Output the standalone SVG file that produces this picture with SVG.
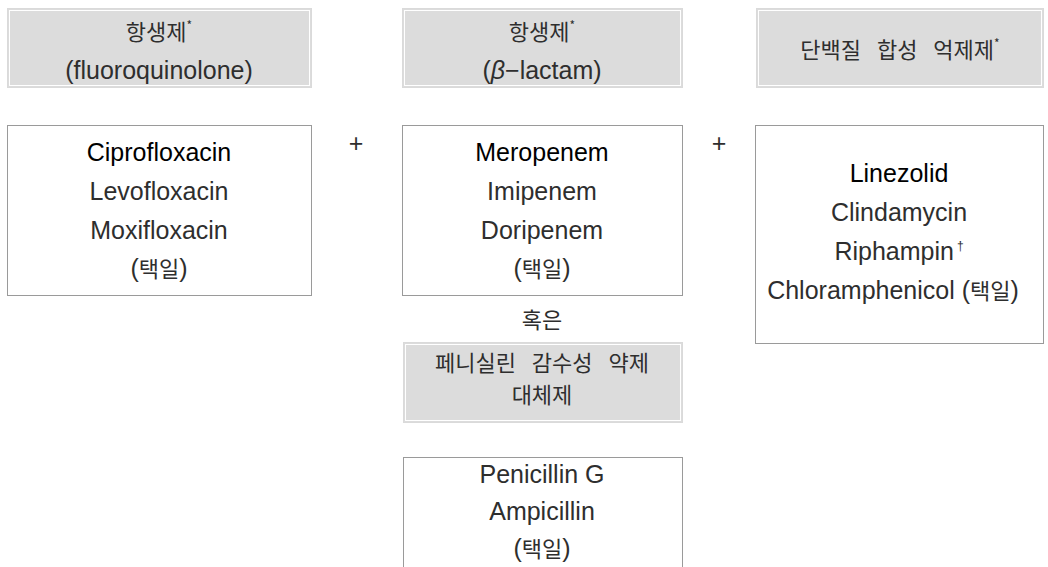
<svg xmlns="http://www.w3.org/2000/svg" width="1048" height="567" viewBox="0 0 1048 567">
<style>
.hdr{fill:#dcdcdc;stroke:#dadada;stroke-width:1}
.hin{fill:none;stroke:#ffffff;stroke-width:1}
.box{fill:#ffffff;stroke:#9a9a9a;stroke-width:1}
text{text-anchor:middle;fill:#2e2e2e}
.lat{font-family:"Liberation Sans",Arial,sans-serif;font-size:25px}
.kor{font-family:"Noto Sans CJK KR",sans-serif;font-size:22px}
.ks{font-family:"Noto Sans CJK KR",sans-serif;font-size:22px;word-spacing:11px}
.main{fill:#000000}
.sup{font-size:12px}
</style>
<rect width="1048" height="567" fill="#ffffff"/>

<g id="header1">
<rect class="hdr" x="7.5" y="8.5" width="304" height="79"/>
<rect class="hin" x="9.5" y="10.5" width="300" height="75"/>
<text class="kor" x="159" y="40">항생제<tspan class="sup" dy="-10">*</tspan></text>
<text class="lat" x="159" y="79">(fluoroquinolone)</text>
</g>

<g id="header2">
<rect class="hdr" x="402.5" y="8.5" width="280" height="79"/>
<rect class="hin" x="404.5" y="10.5" width="276" height="75"/>
<text class="kor" x="542" y="40">항생제<tspan class="sup" dy="-10">*</tspan></text>
<text class="lat" x="542" y="79">(<tspan font-style="italic">β</tspan>−lactam)</text>
</g>

<g id="header3">
<rect class="hdr" x="756.5" y="8.5" width="287" height="79"/>
<rect class="hin" x="758.5" y="10.5" width="283" height="75"/>
<text class="ks" x="900" y="58">단백질 합성 억제제<tspan class="sup" dy="-10">*</tspan></text>
</g>

<g id="fluoroquinolone-box">
<rect class="box" x="7.5" y="125.5" width="304" height="170"/>
<text class="lat main" x="159" y="161">Ciprofloxacin</text>
<text class="lat" x="159" y="200">Levofloxacin</text>
<text class="lat" x="159" y="239">Moxifloxacin</text>
<text class="lat" x="159" y="277">(<tspan class="kor">택일</tspan>)</text>
</g>

<g id="betalactam-box">
<rect class="box" x="402.5" y="125.5" width="280" height="170"/>
<text class="lat main" x="542" y="161">Meropenem</text>
<text class="lat" x="542" y="200">Imipenem</text>
<text class="lat" x="542" y="239">Doripenem</text>
<text class="lat" x="542" y="277">(<tspan class="kor">택일</tspan>)</text>
</g>

<g id="protein-box">
<rect class="box" x="755.5" y="125.5" width="288" height="218"/>
<text class="lat main" x="899" y="182">Linezolid</text>
<text class="lat" x="899" y="221">Clindamycin</text>
<text class="lat" x="899" y="260">Riphampin<tspan class="sup" dx="3" dy="-10" font-size="15">†</tspan></text>
<text class="lat" x="893" y="299">Chloramphenicol (<tspan class="kor">택일</tspan>)</text>
</g>

<g id="operators">
<text class="lat" x="356" y="152">+</text>
<text class="lat" x="719" y="152">+</text>
<text class="kor" x="542" y="328">혹은</text>
</g>

<g id="header4">
<rect class="hdr" x="403.5" y="342.5" width="279" height="80"/>
<rect class="hin" x="405.5" y="344.5" width="275" height="76"/>
<text class="ks" x="542" y="371">페니실린 감수성 약제</text>
<text class="kor" x="542" y="403">대체제</text>
</g>

<g id="penicillin-box">
<rect class="box" x="403.5" y="457.5" width="279" height="130"/>
<text class="lat" x="542" y="483">Penicillin  G</text>
<text class="lat" x="542" y="520">Ampicillin</text>
<text class="lat" x="542" y="557">(<tspan class="kor">택일</tspan>)</text>
</g>

<g id="connectors"></g>
</svg>
